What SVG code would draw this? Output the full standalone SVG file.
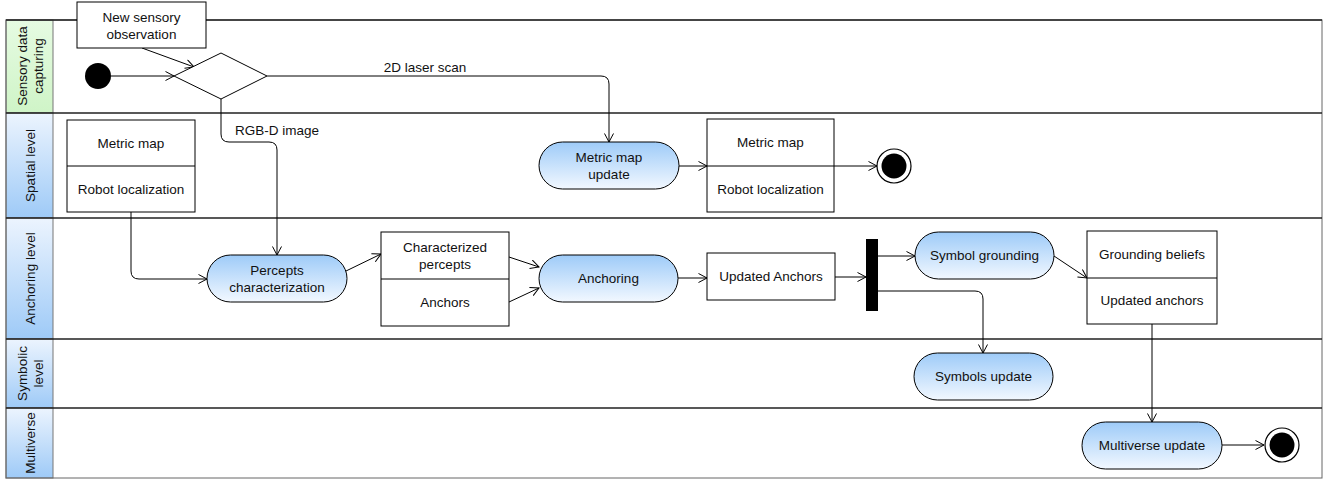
<svg xmlns="http://www.w3.org/2000/svg" width="1324" height="479" viewBox="0 0 1324 479">
<style>
text{font-family:"Liberation Sans",Arial,sans-serif;font-size:13.5px;fill:#111;text-anchor:middle;dominant-baseline:central}
.lane{fill:none;stroke:#222;stroke-width:1.3}
.hdr{stroke:#777;stroke-width:1}
.act{fill:url(#actg);stroke:#000;stroke-width:1}
.box{fill:#fff;stroke:#000;stroke-width:1}
.con{fill:none;stroke:#000;stroke-width:1;marker-end:url(#arr)}
</style>
<defs>
<linearGradient id="actg" x1="0" y1="0" x2="0" y2="1"><stop offset="0" stop-color="#9ecbf8"/><stop offset="1" stop-color="#f2f8ff"/></linearGradient>
<linearGradient id="blueg" x1="0" y1="0" x2="0" y2="1"><stop offset="0" stop-color="#ecf4fe"/><stop offset="1" stop-color="#9ecaf7"/></linearGradient>
<linearGradient id="greeng" x1="0" y1="0" x2="0" y2="1"><stop offset="0" stop-color="#e6fbe2"/><stop offset="1" stop-color="#cff4c7"/></linearGradient>
<marker id="arr" markerWidth="10" markerHeight="10" refX="9" refY="5" orient="auto" markerUnits="userSpaceOnUse"><path d="M0.5,0.5 L9,5 L0.5,9.5" fill="none" stroke="#000" stroke-width="1"/></marker>
</defs>
<rect width="1324" height="479" fill="#fff"/>
<g id="lanes">
<rect class="hdr" x="6" y="20" width="47" height="93" fill="url(#greeng)"/>
<rect class="hdr" x="6" y="113" width="47" height="105" fill="url(#blueg)"/>
<rect class="hdr" x="6" y="218" width="47" height="121" fill="url(#blueg)"/>
<rect class="hdr" x="6" y="339" width="47" height="69" fill="url(#blueg)"/>
<rect class="hdr" x="6" y="408" width="47" height="70" fill="url(#blueg)"/>
<rect x="6" y="20" width="1316" height="458" fill="none" stroke="#666" stroke-width="1"/>
<path class="lane" d="M6,20 H1322 M6,113 H1322 M6,218 H1322 M6,339 H1322 M6,408 H1322"/>
<text transform="translate(29.5,66) rotate(-90)"><tspan x="0" dy="-8">Sensory data</tspan><tspan x="0" dy="16">capturing</tspan></text>
<text transform="translate(30,165.5) rotate(-90)">Spatial level</text>
<text transform="translate(30,278.5) rotate(-90)">Anchoring level</text>
<text transform="translate(29.5,373.5) rotate(-90)"><tspan x="0" dy="-8">Symbolic</tspan><tspan x="0" dy="16">level</tspan></text>
<text transform="translate(30,443) rotate(-90)">Multiverse</text>
</g>
<g id="connectors">
<path class="con" d="M111,76 L174,76"/>
<path class="con" d="M142,48 L194,67"/>
<path class="con" d="M267,76 L601,76 Q609,76 609,84 L609,142"/>
<text x="425" y="67">2D laser scan</text>
<path class="con" d="M221,99 L221,134 Q221,142 229,142 L269,142 Q277,142 277,150 L277,255"/>
<text x="277" y="130">RGB-D image</text>
<path class="con" d="M131,212 L131,271 Q131,279 139,279 L207,279"/>
<path class="con" d="M679,166 L707,166"/>
<path class="con" d="M834,166 L877,166"/>
<path class="con" d="M346,271 L381,254"/>
<path class="con" d="M509,257 L539,267"/>
<path class="con" d="M509,302 L539,288"/>
<path class="con" d="M678,278 L707,278"/>
<path class="con" d="M835,277 L866,277"/>
<path class="con" d="M878,256 L915,256"/>
<path class="con" d="M878,291 L975,291 Q983,291 983,299 L983,353"/>
<path class="con" d="M1054,256 L1087,278"/>
<path class="con" d="M1152,324 L1152,422"/>
<path class="con" d="M1222,445 L1264,445"/>
</g>
<g id="start"><circle cx="98" cy="76" r="13" fill="#000"/></g>
<g id="new-obs"><rect class="box" x="77" y="2" width="129" height="46"/><text x="141.5" y="17">New sensory</text><text x="141.5" y="34">observation</text></g>
<g id="decision"><path d="M174,76 L221,53 L267,76 L221,99 Z" fill="#fff" stroke="#000" stroke-width="1"/></g>
<g id="spatial-data"><rect class="box" x="67" y="120" width="128" height="92"/><line x1="67" y1="166" x2="195" y2="166" stroke="#000"/><text x="131" y="143">Metric map</text><text x="131" y="189">Robot localization</text></g>
<g id="metric-update"><rect class="act" x="539" y="142" width="140" height="47" rx="23.5"/><text x="609" y="157">Metric map</text><text x="609" y="174">update</text></g>
<g id="spatial-data-2"><rect class="box" x="707" y="119" width="127" height="93"/><line x1="707" y1="166" x2="834" y2="166" stroke="#000"/><text x="770.5" y="142">Metric map</text><text x="770.5" y="189">Robot localization</text></g>
<g id="end1"><circle cx="894" cy="166" r="17" fill="#fff" stroke="#000" stroke-width="1.2"/><circle cx="894" cy="166" r="12.5" fill="#000"/></g>
<g id="percepts"><rect class="act" x="207" y="255" width="140" height="47" rx="23.5"/><text x="277" y="270">Percepts</text><text x="277" y="287">characterization</text></g>
<g id="char-anchors"><rect class="box" x="381" y="232" width="128" height="94"/><line x1="381" y1="279" x2="509" y2="279" stroke="#000"/><text x="445" y="247">Characterized</text><text x="445" y="264">percepts</text><text x="445" y="302">Anchors</text></g>
<g id="anchoring"><rect class="act" x="539" y="255" width="139" height="47" rx="23.5"/><text x="608.5" y="278.5">Anchoring</text></g>
<g id="updated-anchors"><rect class="box" x="707" y="253" width="128" height="47"/><text x="771" y="276.5">Updated Anchors</text></g>
<g id="fork"><rect x="866" y="239" width="12" height="72" fill="#000"/></g>
<g id="symbol-grounding"><rect class="act" x="915" y="232" width="139" height="47" rx="23.5"/><text x="984.5" y="255.5">Symbol grounding</text></g>
<g id="grounding-box"><rect class="box" x="1087" y="231" width="130" height="93"/><line x1="1087" y1="278" x2="1217" y2="278" stroke="#000"/><text x="1152" y="254">Grounding beliefs</text><text x="1152" y="300">Updated anchors</text></g>
<g id="symbols-update"><rect class="act" x="914" y="353" width="139" height="47" rx="23.5"/><text x="983.5" y="376.5">Symbols update</text></g>
<g id="multiverse-update"><rect class="act" x="1082" y="422" width="140" height="47" rx="23.5"/><text x="1152" y="445.5">Multiverse update</text></g>
<g id="end2"><circle cx="1282" cy="445" r="17" fill="#fff" stroke="#000" stroke-width="1.2"/><circle cx="1282" cy="445" r="12.5" fill="#000"/></g>
</svg>
